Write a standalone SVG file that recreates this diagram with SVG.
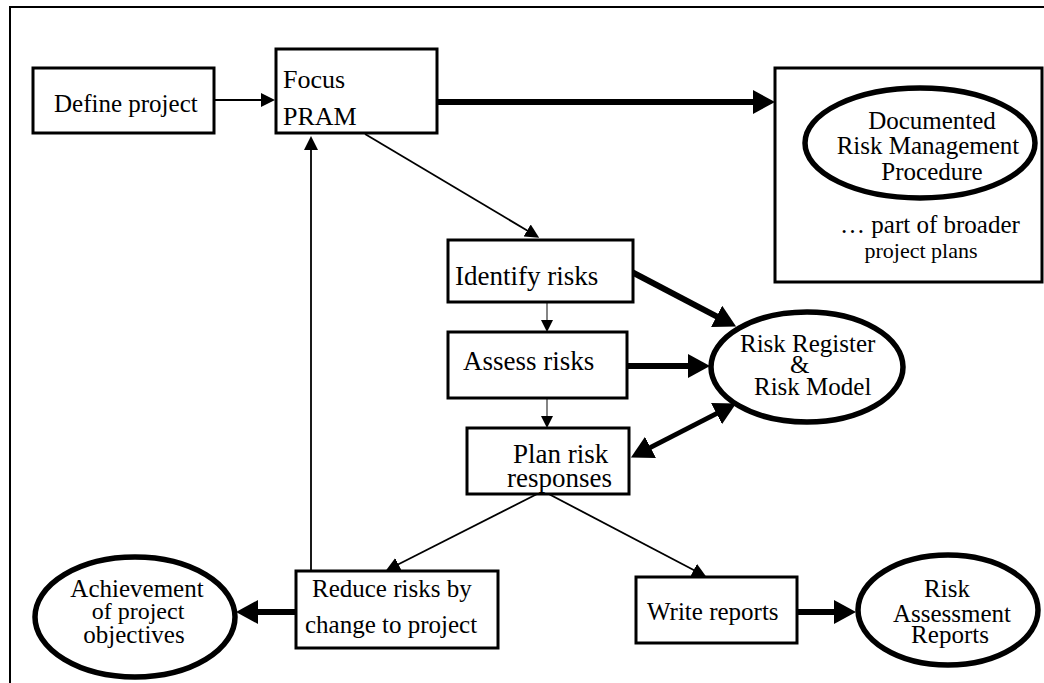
<svg xmlns="http://www.w3.org/2000/svg" width="1044" height="683" viewBox="0 0 1044 683">
  <style>
    .box { fill: #fff; stroke: #000; stroke-width: 3; }
    .oval { fill: #fff; stroke: #000; stroke-width: 5.5; }
    .frame { fill: none; stroke: #000; stroke-width: 2; }
    .thin { fill: none; stroke: #000; stroke-width: 1.8; }
    .hair { fill: none; stroke: #333; stroke-width: 1.2; }
    .thick { fill: none; stroke: #000; stroke-width: 6; }
    text { font-family: "Liberation Serif", "Times New Roman", serif; font-size: 25px; fill: #000; }
    .big { font-size: 27px; }
    .mid { text-anchor: middle; }
  </style>
  <defs>
    <marker id="headThin" markerUnits="userSpaceOnUse" markerWidth="14" markerHeight="14" refX="1" refY="7" orient="auto">
      <path d="M0,0 L14,7 L0,14 z" fill="#000"/>
    </marker>
    <marker id="headSmall" markerUnits="userSpaceOnUse" markerWidth="12" markerHeight="12" refX="1" refY="6" orient="auto">
      <path d="M0,0 L12,6 L0,12 z" fill="#000"/>
    </marker>
    <marker id="headThick" markerUnits="userSpaceOnUse" markerWidth="22" markerHeight="24" refX="1" refY="12" orient="auto-start-reverse">
      <path d="M0,0 L22,12 L0,24 z" fill="#000"/>
    </marker>
  </defs>

  <!-- outer frame (open on the right and bottom) -->
  <path class="frame" d="M10,683 L10,7 L1044,7"/>

  <!-- connectors -->
  <g id="connectors">
    <line class="thin" x1="214" y1="100" x2="262" y2="100" marker-end="url(#headThin)"/>
    <line class="thin" x1="365" y1="134" x2="528" y2="231" marker-end="url(#headThin)"/>
    <line class="hair" x1="547" y1="303" x2="547" y2="321" marker-end="url(#headSmall)"/>
    <line class="hair" x1="547" y1="398" x2="547" y2="417" marker-end="url(#headSmall)"/>
    <line class="thin" x1="311" y1="571" x2="311" y2="149" marker-end="url(#headThin)"/>
    <line class="thin" x1="543" y1="491" x2="397.5" y2="564.7" marker-end="url(#headThin)"/>
    <line class="thin" x1="543" y1="491" x2="694.6" y2="570.5" marker-end="url(#headThin)"/>

    <line class="thick" x1="438" y1="102" x2="754" y2="102" marker-end="url(#headThick)"/>
    <line class="thick" x1="628" y1="270" x2="717.5" y2="316.8" marker-end="url(#headThick)"/>
    <line class="thick" x1="628" y1="366" x2="689" y2="366" marker-end="url(#headThick)"/>
    <line class="thick" style="stroke-width:5" x1="649.6" y1="447.9" x2="717.4" y2="413.1" marker-start="url(#headThick)" marker-end="url(#headThick)"/>
    <line class="thick" x1="296" y1="612" x2="257" y2="612" marker-end="url(#headThick)"/>
    <line class="thick" x1="797" y1="612" x2="835" y2="612" marker-end="url(#headThick)"/>
  </g>

  <g id="define-project">
    <rect class="box" x="33" y="68" width="181" height="65"/>
    <text x="54" y="112">Define project</text>
  </g>

  <g id="focus-pram">
    <rect class="box" x="276" y="49" width="161" height="84"/>
    <text x="283" y="88" style="font-size:26px">Focus</text>
    <text x="283" y="125" style="font-size:26px">PRAM</text>
  </g>

  <g id="documented-procedure">
    <rect class="box" x="775" y="68" width="267" height="214"/>
    <ellipse class="oval" cx="920" cy="143" rx="115" ry="55"/>
    <text class="mid" x="932" y="129">Documented</text>
    <text class="mid" x="928" y="154">Risk Management</text>
    <text class="mid" x="932" y="180">Procedure</text>
    <text class="mid" x="930" y="233">… part of broader</text>
    <text class="mid" x="921" y="258" style="font-size:22px">project plans</text>
  </g>

  <g id="identify-risks">
    <rect class="box" x="448" y="240" width="185" height="62"/>
    <text class="big" x="455" y="285">Identify risks</text>
  </g>

  <g id="assess-risks">
    <rect class="box" x="448" y="332" width="179" height="66"/>
    <text class="big" x="463" y="370">Assess risks</text>
  </g>

  <g id="plan-responses">
    <rect class="box" x="467" y="428" width="162" height="66"/>
    <text class="big" x="513" y="463">Plan risk</text>
    <text class="big" x="507" y="487">responses</text>
  </g>

  <g id="risk-register">
    <ellipse class="oval" cx="807" cy="367" rx="96" ry="55"/>
    <text x="740" y="352">Risk Register</text>
    <text x="790" y="373">&amp;</text>
    <text x="754" y="395">Risk Model</text>
  </g>

  <g id="reduce-risks">
    <rect class="box" x="296" y="571" width="202" height="77"/>
    <text x="312" y="597">Reduce risks by</text>
    <text x="305" y="633">change to project</text>
  </g>

  <g id="achievement">
    <ellipse class="oval" cx="135" cy="617" rx="100" ry="60"/>
    <text class="mid" x="137" y="597">Achievement</text>
    <text class="mid" x="138" y="619" style="font-size:24px">of project</text>
    <text class="mid" x="134" y="643">objectives</text>
  </g>

  <g id="write-reports">
    <rect class="box" x="636" y="577" width="161" height="66"/>
    <text x="647" y="620">Write reports</text>
  </g>

  <g id="assessment-reports">
    <ellipse class="oval" cx="948" cy="610" rx="90" ry="55"/>
    <text class="mid" x="947" y="597">Risk</text>
    <text class="mid" x="952" y="622">Assessment</text>
    <text class="mid" x="950" y="643">Reports</text>
  </g>
</svg>
